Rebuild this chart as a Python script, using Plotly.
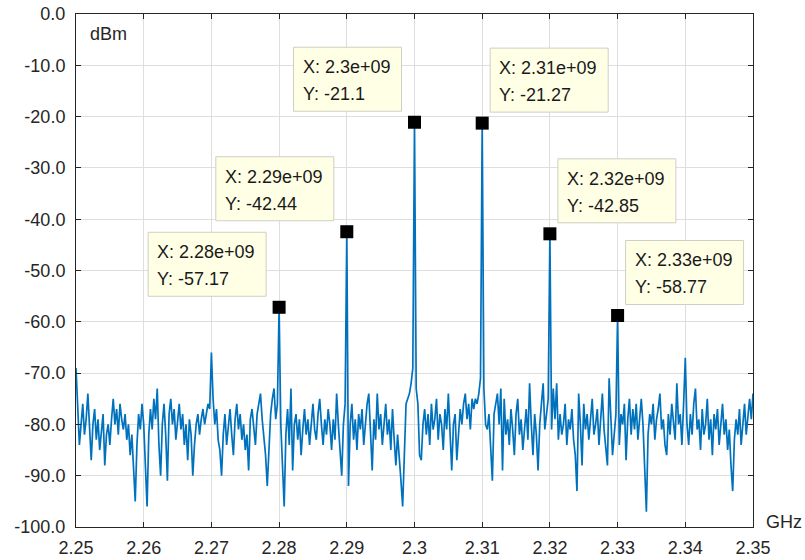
import numpy as np
import plotly.graph_objects as go

# ---- spectrum trace, dBm, sampled every 0.25 MHz from 2.25 to 2.35 GHz ----
seg_2250 = [-69,-78,-84,-80,-76,-82,-79,-74,-81,-87, -80,-77,-83,-79,-85,-81,-78,-88,-82,-80,
            -84,-79,-75,-80,-77,-82,-76,-79,-81,-78, -83,-80,-86,-82,-89,-95,-84,-78,-81,-76]
seg_2260 = [-80,-88,-96,-82,-77,-81,-75,-79,-73,-84, -90,-80,-76,-82,-91,-78,-75,-80,-77,-83,
            -79,-76,-81,-78,-84,-80,-87,-79,-82,-90, -84,-80,-78,-82,-79,-77,-80,-78,-76,-77]
seg_2270 = [-66,-75,-80,-77,-83,-85,-90,-82,-78,-84, -80,-77,-82,-86,-79,-76,-81,-78,-83,-80,
            -85,-82,-89,-79,-77,-81,-84,-78,-76,-74, -79,-82,-86,-92,-84,-78,-75,-73,-79,-76]
seg_2280 = [-57.17,-80,-88,-96,-82,-77,-84,-73,-89,-80, -78,-83,-79,-86,-81,-77,-82,-79,-84,-80,
            -76,-81,-83,-78,-75,-80,-84,-79,-82,-77, -80,-85,-79,-83,-74,-80,-86,-90,-80,-76]
seg_2290 = [-42.44,-92,-80,-76,-83,-79,-85,-78,-81,-77, -84,-80,-76,-74,-82,-89,-79,-83,-74,-81,
            -78,-84,-80,-76,-82,-79,-85,-77,-83,-88, -82,-86,-91,-96,-84,-76,-75,-74,-72,-69]
seg_2300 = [-21.1,-73,-76,-86,-87,-80,-77,-82,-78,-84, -76,-81,-79,-75,-83,-78,-80,-85,-77,-81,
            -74,-83,-89,-80,-78,-87,-82,-77,-80,-76, -74,-79,-76,-81,-75,-77,-75,-76,-74,-71]
seg_2310 = [-21.27,-73,-80,-81,-78,-85,-91,-78,-76,-74, -80,-73,-89,-75,-82,-79,-84,-77,-81,-86,
            -78,-75,-82,-79,-85,-80,-77,-83,-72,-80, -86,-78,-82,-89,-80,-76,-72,-81,-78,-75]
seg_2320 = [-42.85,-81,-73,-79,-72,-83,-78,-82,-80,-76, -84,-79,-81,-77,-83,-86,-93,-74,-80,-88,
            -76,-81,-78,-83,-79,-75,-82,-80,-77,-84, -79,-74,-81,-84,-88,-71,-80,-86,-82,-78]
seg_2330 = [-58.77,-84,-78,-80,-76,-87,-79,-75,-82,-77, -81,-76,-83,-79,-75,-80,-88,-97,-82,-78,
            -80,-76,-83,-79,-77,-74,-81,-79,-84,-86, -78,-82,-76,-80,-83,-72,-80,-78,-84,-76]
seg_2340 = [-67,-80,-84,-78,-82,-76,-73,-81,-79,-85, -77,-82,-80,-75,-83,-79,-86,-78,-81,-77,
            -84,-80,-76,-82,-79,-85,-81,-88,-93,-83, -79,-82,-77,-84,-80,-76,-82,-78,-75,-79,
            -74]

f_start_ghz = 2.25
f_step_ghz = 0.00025

# ---- data tips ----
tip_x = [2.28, 2.29, 2.30, 2.31, 2.32, 2.33]
tip_y = [-57.17, -42.44, -21.1, -21.27, -42.85, -58.77]
tip_side = ["left", "left", "left", "right", "right", "right"]

# ---- axis ticks ----
x_ticks = [2.25, 2.26, 2.27, 2.28, 2.29, 2.30, 2.31, 2.32, 2.33, 2.34, 2.35]
x_tick_labels = ["2.25", "2.26", "2.27", "2.28", "2.29", "2.3", "2.31", "2.32", "2.33", "2.34", "2.35"]
y_ticks = [0, -10, -20, -30, -40, -50, -60, -70, -80, -90, -100]
y_tick_labels = ["0.0", "-10.0", "-20.0", "-30.0", "-40.0", "-50.0", "-60.0", "-70.0", "-80.0", "-90.0", "-100.0"]

spectrum = (seg_2250 + seg_2260 + seg_2270 + seg_2280 + seg_2290 + seg_2300 +
            seg_2310 + seg_2320 + seg_2330 + seg_2340)
freq = f_start_ghz + f_step_ghz * np.arange(len(spectrum))

FONT = "Liberation Sans, Arial, sans-serif"
FS = 18
AX = "#262626"

fig = go.Figure()
fig.add_trace(go.Scatter(x=freq, y=spectrum, mode="lines",
                         line=dict(color="#0072BD", width=1.7), hoverinfo="skip"))
fig.add_trace(go.Scatter(x=tip_x, y=tip_y, mode="markers",
                         marker=dict(symbol="square", size=13, color="black"),
                         hoverinfo="skip"))

shapes = []
annotations = []
for xv, yv, side in zip(tip_x, tip_y, tip_side):
    xl = "X: %s" % format(xv * 1e9, ".3g")
    yl = "Y: %s" % format(yv, ".4g")
    w = 118 if len(xl) >= 11 else 108
    if side == "right":
        bx0, bx1 = 8, 8 + w
    else:
        bx0, bx1 = -13 - w, -13
    shapes.append(dict(type="rect", xref="x", yref="y",
                       xsizemode="pixel", ysizemode="pixel",
                       xanchor=xv, yanchor=yv, x0=bx0, x1=bx1, y0=11, y1=75,
                       fillcolor="#FFFFE6", line=dict(color="#CFCFC4", width=1),
                       layer="above"))
    for txt, dy in ((xl, 55), (yl, 28)):
        annotations.append(dict(x=xv, y=yv, xref="x", yref="y", text=txt,
                                showarrow=False, xanchor="left", yanchor="middle",
                                xshift=bx0 + 7, yshift=dy,
                                font=dict(family=FONT, size=FS, color="#1a1a1a")))

annotations.append(dict(x=0, y=1, xref="paper", yref="paper", text="dBm",
                        showarrow=False, xanchor="left", yanchor="middle",
                        xshift=12, yshift=-20,
                        font=dict(family=FONT, size=FS, color=AX)))
annotations.append(dict(x=1, y=0, xref="paper", yref="paper", text="GHz",
                        showarrow=False, xanchor="left", yanchor="middle",
                        xshift=11, yshift=5,
                        font=dict(family=FONT, size=FS, color=AX)))

axis_common = dict(showline=True, linecolor=AX, linewidth=1, mirror="ticks",
                   ticks="inside", ticklen=5, tickcolor=AX, tickwidth=1,
                   showgrid=True, gridcolor="#DEDEDE", gridwidth=1,
                   zeroline=False, automargin=False,
                   tickfont=dict(family=FONT, size=FS, color=AX))

fig.update_layout(
    width=805, height=560,
    margin=dict(l=76, r=52, t=14, b=33, autoexpand=False),
    paper_bgcolor="white", plot_bgcolor="white",
    showlegend=False,
    shapes=shapes, annotations=annotations,
    xaxis=dict(range=[2.25, 2.35], tickvals=x_ticks, ticktext=x_tick_labels,
               ticklabelstandoff=4, **axis_common),
    yaxis=dict(range=[-100, 0], tickvals=y_ticks, ticktext=y_tick_labels,
               ticklabelstandoff=6, **axis_common),
)

fig.write_html("out.html")
